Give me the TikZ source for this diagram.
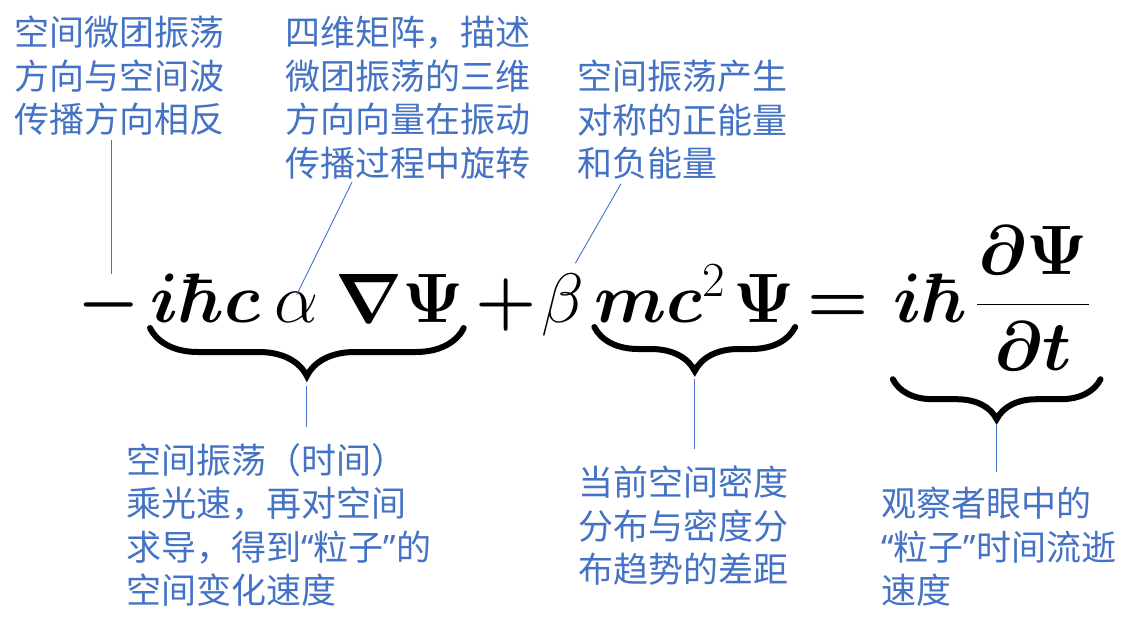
\RequirePackage{fix-cm}
\documentclass[tikz,border=0pt]{standalone}
\usepackage{amsmath}
\usepackage[no-math]{fontspec}
\newfontfamily\cjk{Noto Sans CJK SC}
\newfontfamily\qfont{Noto Sans}
\newcommand\zq[1]{{\qfont“}#1{\qfont”}}
\usetikzlibrary{positioning,decorations.pathreplacing}
\definecolor{noteblue}{HTML}{4472C4}

\begin{document}
\begin{tikzpicture}[
    x=1pt, y=-1pt,
    % --- STYLES ---
    note/.style={
        anchor=north west, inner sep=0pt,
        align=left, text=noteblue,
        font=\cjk\fontsize{35}{43.5}\selectfont
    },
    term/.style={inner sep=0pt, font=\fontsize{70}{84}\selectfont},
    brace/.style={
        decorate, decoration={brace, mirror, amplitude=#1},
        line width=6pt, line cap=round
    },
    link/.style={draw=noteblue, line width=0.9pt}
]
\useasboundingbox (0,0) rectangle (1130,616);

% ===== 1. EQUATION =====
\def\yBase{322}

\node[term, anchor=base west] (minus) at (77,\yBase) {$\boldsymbol{-}$};
\node[term, base right=10pt of minus] (ihc) {$\boldsymbol{i\hbar c}$};
\node[term, base right=14pt of ihc] (alpha) {$\alpha$};
\node[term, base right=16pt of alpha] (grad) {$\boldsymbol{\nabla\Psi}$};
\node[term, base right=12pt of grad] (plus) {$\boldsymbol{+}$};
\node[term, base right=4pt of plus] (beta) {$\beta$};
\node[term, base right=10pt of beta] (mass) {$\boldsymbol{mc}^2\kern8pt\boldsymbol{\Psi}$};
\node[term, base right=12pt of mass] (eq) {$\boldsymbol{=}$};
\node[term, base right=24pt of eq] (rhs)
    {$\boldsymbol{i\hbar}\kern9pt\dfrac{\kern1pt\boldsymbol{\partial\Psi}\kern1pt}{\boldsymbol{\partial t}}$};

% underbraces
\draw[brace=48pt] ([yshift=-6pt]ihc.base west) -- ([yshift=-6pt]grad.base east)
    coordinate[pos=0.5, yshift=-48pt] (tip1);
\draw[brace=44pt] ([yshift=-5pt]mass.base west) -- ([yshift=-5pt]mass.base east)
    coordinate[pos=0.5, yshift=-44pt] (tip2);
\draw[brace=40pt] ([yshift=-9pt]rhs.south west) -- ([xshift=10pt, yshift=-9pt]rhs.south east)
    coordinate[pos=0.5, yshift=-40pt] (tip3);

% ===== 2. NOTES ABOVE =====
\node[note] (n1) at (14,16) {空间微团振荡\\方向与空间波\\传播方向相反};
\node[note] (n2) at (285,16) {四维矩阵，描述\\微团振荡的三维\\方向向量在振动\\传播过程中旋转};
\node[note] (n3) at (577,60) {空间振荡产生\\对称的正能量\\和负能量};

% ===== 3. NOTES BELOW =====
\node[note] (n4) at (126,443) {空间振荡（时间）\\乘光速，再对空间\\求导，得到\zq{粒子}的\\空间变化速度};
\node[note] (n5) at (578,466) {当前空间密度\\分布与密度分\\布趋势的差距};
\node[note] (n6) at (881,487) {观察者眼中的\\\zq{粒子}时间流逝\\速度};

% ===== 4. CONNECTIONS =====
\draw[link, shorten <=4pt, shorten >=3pt] ([xshift=3pt]n1.south -| minus.north) -- ([xshift=3pt]minus.north);
\draw[link] ([xshift=67pt, yshift=-3pt]n2.south west) -- ([yshift=-3pt]alpha.north);
\draw[link] ([xshift=44pt, yshift=-4pt]n3.south west) -- ([xshift=-9pt, yshift=10pt]beta.north east);

\draw[link, shorten <=10pt, shorten >=16pt] (tip1) -- (tip1 |- n4.north);
\draw[link, shorten <=8pt, shorten >=17pt] (tip2) -- (tip2 |- n5.north);
\draw[link, shorten <=5pt, shorten >=15pt] (tip3) -- (tip3 |- n6.north);

\end{tikzpicture}
\end{document}
